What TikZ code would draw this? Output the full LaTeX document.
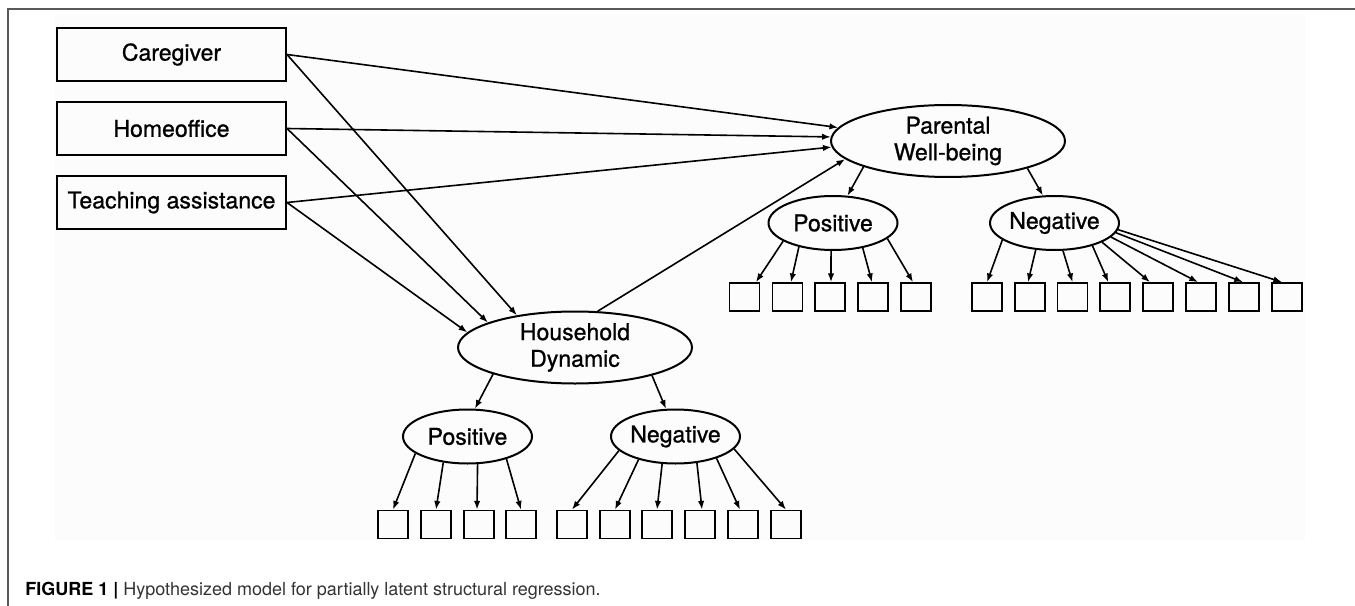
\documentclass[tikz,border=0pt]{standalone}
\usepackage{fontspec}
\setmainfont{TeX Gyre Heros}
\newfontfamily\lblfont[FakeBold=0.9]{TeX Gyre Heros}
\usetikzlibrary{shapes.geometric,arrows.meta}
\begin{document}
\begin{tikzpicture}[x=0.75pt,y=-0.75pt,
  lbl/.style={font=\lblfont\fontsize{17.3}{20}\selectfont},
  obs/.style={lbl,draw,line width=1.5pt,minimum width=171.75pt,minimum height=39.75pt,inner sep=0pt},
  lat/.style={lbl,draw,ellipse,line width=1.5pt,inner sep=0pt,minimum width=175.5pt,minimum height=54pt,align=center},
  sub/.style={lbl,draw,ellipse,line width=1.5pt,inner sep=0pt,minimum width=96.75pt,minimum height=40.5pt},
  ind/.style={draw,line width=1.3pt,minimum width=22.5pt,minimum height=21pt,inner sep=0pt},
  arr/.style={line width=1.2pt,-{Latex[length=6.5pt,width=4.8pt]}}]
\useasboundingbox (0,0) rectangle (1355,606);
\fill[black!1] (55,15) rectangle (1305,540);
\draw[line width=1.5pt,black!65] (8,606) -- (8,9) -- (1355,9);

% observed predictors
\node[obs] (cg) at (171.5,54.5) {Caregiver};
\node[obs] (ho) at (171.5,128.5) {Homeoffice};
\node[obs] (ta) at (171.5,202.5) {Teaching assistance};

% latent variables
\node[lat] (pwb) at (948,141) {Parental\\Well-being};
\node[sub] (pp) at (833,223) {Positive};
\node[sub] (pn) at (1054.5,223) {Negative};
\node[lat] (hd) at (575,347.5) {Household\\Dynamic};
\node[sub] (hp) at (467.5,436.5) {Positive};
\node[sub] (hn) at (675.5,436.5) {Negative};

% indicators
\foreach \x [count=\i] in {744.5,787.5,830,873,916}
  \node[ind] (pp\i) at (\x,297) {};
\foreach \x [count=\i] in {987,1030,1072.5,1115,1158,1201,1244,1287}
  \node[ind] (pn\i) at (\x,297) {};
\foreach \x [count=\i] in {393,436,479,521}
  \node[ind] (hp\i) at (\x,524.5) {};
\foreach \x [count=\i] in {572,615,657,700,743,786}
  \node[ind] (hn\i) at (\x,524.5) {};

% structural paths
\draw[arr] (cg.east) -- (pwb.173);
\draw[arr] (ho.east) -- (pwb.178);
\draw[arr] (ta.east) -- (pwb.183);
\draw[arr] (hd.58) -- (pwb.190);
\draw[arr] (cg.east) -- (hd.151.6);
\draw[arr] (ho.east) -- (hd.164.7);
\draw[arr] (ta.east) -- (hd.172.6);
\draw[arr] (pwb.197) -- (pp.62);
\draw[arr] (pwb.341) -- (pn.113);
\draw[arr] (hd.198) -- (hp.75);
\draw[arr] (hd.340) -- (hn.109);

% loadings
\draw[arr] (pp.200) -- ([xshift=8.6pt]pp1.north);
\draw[arr] (pp.215) -- ([xshift=2.6pt]pp2.north);
\draw[arr] (pp.266) -- ([xshift=0.75pt]pp3.north);
\draw[arr] (pp.320) -- ([xshift=-0.75pt]pp4.north);
\draw[arr] (pp.344) -- ([xshift=-2.25pt]pp5.north);

\draw[arr] (pn.198) -- (pn1.north);
\draw[arr] (pn.235.6) -- ([xshift=-1.5pt]pn2.north);
\draw[arr] (pn.287.5) -- (pn3.north);
\draw[arr] (pn.329) -- ([xshift=-5pt]pn4.north);
\draw[arr] (pn.338) -- ([xshift=-6pt]pn5.north);
\draw[arr] (pn.346.5) -- ([xshift=-2.25pt]pn6.north);
\draw[arr] (pn.351) -- ([xshift=-0.75pt]pn7.north);
\draw[arr] (pn.354.6) -- ([xshift=-3.75pt]pn8.north);

\draw[arr] (hp.198.4) -- (hp1.north);
\draw[arr] (hp.227) -- (hp2.north);
\draw[arr] (hp.290) -- ([xshift=-1.5pt]hp3.north);
\draw[arr] (hp.330) -- (hp4.north);

\draw[arr] (hn.194) -- (hn1.north);
\draw[arr] (hn.212.8) -- (hn2.north);
\draw[arr] (hn.244.7) -- (hn3.north);
\draw[arr] (hn.309) -- ([xshift=1.5pt]hn4.north);
\draw[arr] (hn.332.6) -- ([xshift=-2.25pt]hn5.north);
\draw[arr] (hn.348) -- (hn6.north);

% caption
\node[anchor=base west,inner sep=0pt,font=\fontsize{13.5}{16}\selectfont,text=black!80] (cap) at (25,595)
  {{\color{black}\bfseries FIGURE 1 |} Hypothesized model for partially latent structural regression.};
\end{tikzpicture}
\end{document}
